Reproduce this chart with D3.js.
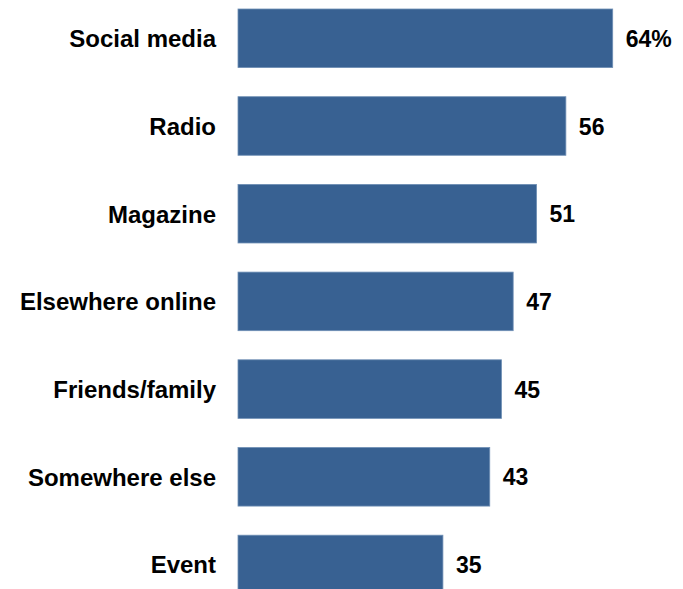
<!DOCTYPE html>
<html>
<head>
<meta charset="utf-8">
<script src="https://cdn.jsdelivr.net/npm/d3@7"></script>
<style>
  html, body { margin: 0; padding: 0; background: #fff; }
</style>
</head>
<body>
<div id="chart"></div>
<script>
// where people heard about it (percent)
const categories = ["Social media", "Radio", "Magazine", "Elsewhere online", "Friends/family", "Somewhere else", "Event"];
const values = [64, 56, 51, 47, 45, 43, 35];
const valueLabels = ["64%", "56", "51", "47", "45", "43", "35"];

const width = 683, height = 589;
const barLeft = 238;

const svg = d3.select("#chart").append("svg")
    .attr("width", width)
    .attr("height", height)
    .attr("font-family", "Liberation Sans, Arial, sans-serif")
    .attr("font-weight", "bold");

const x = d3.scaleLinear()
    .domain([0, 64])
    .range([barLeft, 612.7]);

const y = d3.scaleBand()
    .domain(categories)
    .range([9, 9 + 87.7 * (categories.length - 0.332)])
    .paddingInner(0.332)
    .paddingOuter(0);

const rows = svg.selectAll("g.row")
  .data(categories)
  .join("g")
    .attr("class", "row");

rows.append("rect")
    .attr("x", x(0))
    .attr("y", d => y(d))
    .attr("width", (d, i) => x(values[i]) - x(0))
    .attr("height", y.bandwidth())
    .attr("fill", "#386192")
    .attr("stroke", "#6f8fb5")
    .attr("stroke-width", 0.8);

rows.append("text")
    .attr("x", 216)
    .attr("y", d => y(d) + y.bandwidth() / 2)
    .attr("dy", "0.37em")
    .attr("text-anchor", "end")
    .attr("font-size", 24)
    .attr("fill", "#000")
    .text(d => d);

rows.append("text")
    .attr("x", (d, i) => x(values[i]) + 13)
    .attr("y", d => y(d) + y.bandwidth() / 2)
    .attr("dy", "0.37em")
    .attr("font-size", 23)
    .attr("fill", "#000")
    .text((d, i) => valueLabels[i]);
</script>
</body>
</html>
